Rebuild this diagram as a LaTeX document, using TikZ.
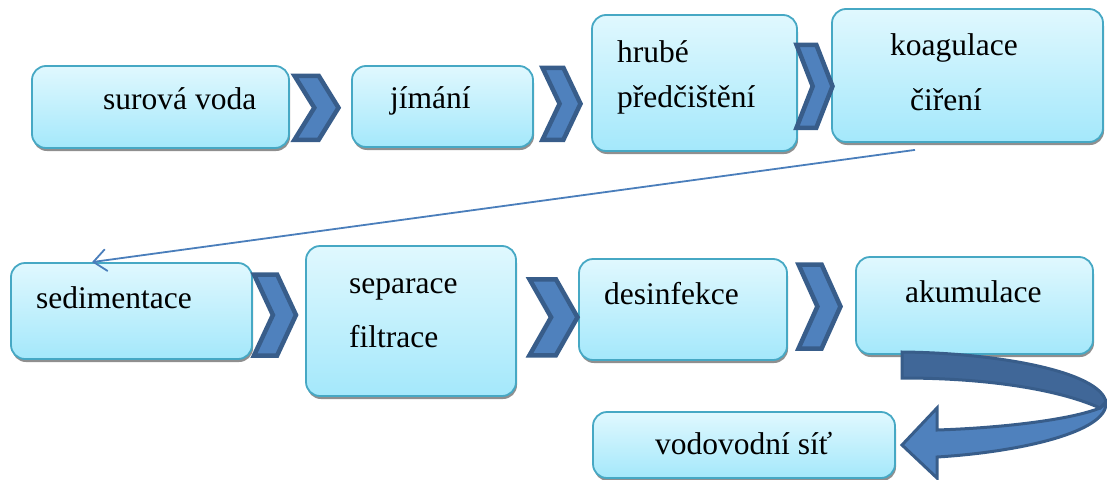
\documentclass[tikz,border=0pt]{standalone}
\usepackage{fontspec}
\setmainfont{Liberation Serif}
\newfontfamily\stepfont{Liberation Serif}
\usetikzlibrary{calc, arrows.meta, shadows}
\definecolor{boxtop}{RGB}{224, 248, 254}
\definecolor{boxbot}{RGB}{164, 232, 251}
\definecolor{boxline}{RGB}{70, 168, 196}
\definecolor{chevfill}{RGB}{79, 129, 189}
\definecolor{chevline}{RGB}{56, 93, 138}
\definecolor{foldfill}{RGB}{64, 103, 152}
\definecolor{thinline}{RGB}{74, 126, 187}
\tikzset{
    stepbox/.style={draw=boxline, line width=1.8pt, rounded corners=14pt,
        top color=boxtop, bottom color=boxbot,
        drop shadow={shadow xshift=1pt, shadow yshift=-3pt, fill=black!55,
            opacity=.8}},
    txt/.style={anchor=base west, inner sep=0pt,
        font=\stepfont\fontsize{31.5}{38}\selectfont},
    chevron/.pic={
        \draw[fill=chevfill, draw=chevline, line width=4.5pt, line join=miter]
            (-.5, -.5) -- (.05, -.5) -- (.5, 0) -- (.05, .5) -- (-.5, .5)
            -- (-.05, 0) -- cycle;
    },
}
\begin{document}
\begin{tikzpicture}[x=1pt, y=-1pt]
            \useasboundingbox (0, 0) rectangle (1107, 479);
            % boxes, first row
            \node[stepbox, minimum width=257, minimum height=82] (surova)
                at (160.5, 107) {};
            \node[stepbox, minimum width=181, minimum height=81] (jimani)
                at (442.5, 106.5) {};
            \node[stepbox, minimum width=205, minimum height=136] (hrube)
                at (694.5, 83) {};
            \node[stepbox, minimum width=271, minimum height=133] (koag)
                at (967.5, 75.5) {};
            % boxes, second row
            \node[stepbox, minimum width=241, minimum height=96] (sedim)
                at (131.5, 311) {};
            \node[stepbox, minimum width=210, minimum height=150] (separ)
                at (411, 321) {};
            \node[stepbox, minimum width=208, minimum height=101] (desinf)
                at (683, 309.5) {};
            \node[stepbox, minimum width=237, minimum height=97] (akum)
                at (974.5, 305.5) {};
            \node[stepbox, minimum width=302, minimum height=66] (vodo)
                at (744, 445) {};
            % chevrons
            \pic[xscale=44, yscale=64] at ($(surova.east)!.5!(jimani.west)
                + (-4, 1)$) {chevron};
            \pic[xscale=38, yscale=72] at ($(jimani.east)!.5!(hrube.west)
                + (-1, 9)$) {chevron};
            \pic[xscale=36, yscale=83] at ($(hrube.east)!.5!(koag.west)
                + (0, 7)$) {chevron};
            \pic[xscale=42, yscale=81] at ($(sedim.east)!.5!(separ.west)
                + (-4, -1)$) {chevron};
            \pic[xscale=48, yscale=76] at ($(separ.east)!.5!(desinf.west)
                + (6, 2)$) {chevron};
            \pic[xscale=42, yscale=84] at ($(desinf.east)!.5!(akum.west)
                + (-2, -1)$) {chevron};
            % texts
            \node[txt] (surova-t) at (103, 109) {surová voda};
            \node[txt] (jimani-t) at (390, 108) {jímání};
            \node[txt] (hrube-t) at (617, 62) {hrubé};
            \node[txt] (predc-t) at (617, 107) {předčištění};
            \node[txt] (koag-t) at (890, 55) {koagulace};
            \node[txt] (ciren-t) at (910, 110) {čiření};
            \node[txt] (sedim-t) at (36, 308) {sedimentace};
            \node[txt] (separ-t) at (349, 293) {separace};
            \node[txt] (filtr-t) at (349, 347) {filtrace};
            \node[txt] (desinf-t) at (604, 304) {desinfekce};
            \node[txt] (akum-t) at (905, 302) {akumulace};
            \node[txt] (vodo-t) at (655, 454) {vodovodní síť};
            % thin arrow to the second row
            \draw[thinline, line width=1.8pt,
                -{Straight Barb[length=13pt, width=22pt]}]
                ($(koag.south) + (-52.5, 7)$) -- ($(sedim.north) + (-39.5, 0)$);
            % curved block arrow
            \draw[fill=chevfill, draw=chevline, line width=3pt]
                (1106, 403) .. controls (1107, 432) and (1020, 452) .. (937, 457)
                -- (937, 478) -- (902, 445) -- (937, 408) -- (937, 430)
                .. controls (1000, 428) and (1070, 420) .. (1100, 408) -- cycle;
            \draw[fill=foldfill, draw=chevline, line width=3pt]
                (902, 352) .. controls (1000, 353) and (1100, 372) .. (1106, 402)
                -- (1100, 408) .. controls (1060, 390) and (990, 378)
                .. (902, 378) -- cycle;
        \end{tikzpicture}
\end{document}
